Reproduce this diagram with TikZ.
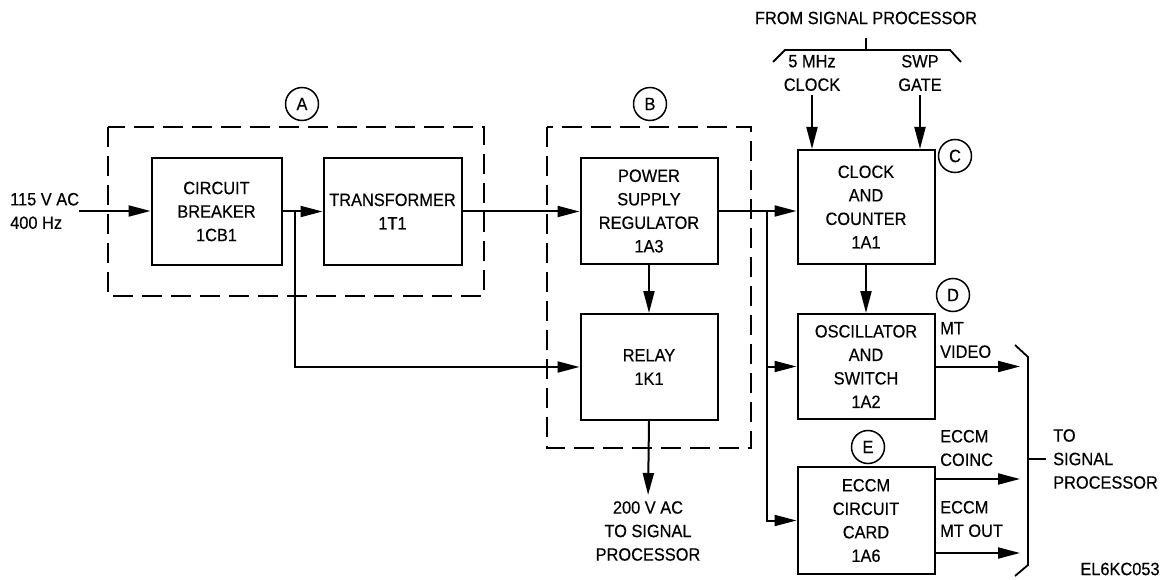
\documentclass[tikz,border=0pt]{standalone}
\usepackage{fontspec}
\setmainfont[FakeStretch=0.92,FakeBold=0.4]{Liberation Sans}
\usetikzlibrary{
  arrows.meta,
  positioning
}
\newcommand{\diagfont}{\fontsize{17.8}{23.5}\selectfont}
\tikzset{
  block/.style={draw,line width=2pt,minimum width=137pt,minimum height=106pt,align=center,font=\diagfont,inner sep=2pt},
  group/.style={draw,line width=1.8pt,dash pattern=on 20pt off 9pt},
  sig/.style={-{Triangle[length=22pt,width=11pt]},line width=2pt},
  wire/.style={line width=1.8pt},
  tag/.style={circle,draw,line width=1.5pt,minimum size=33pt,inner sep=0pt,font=\diagfont},
  note/.style={align=left,font=\diagfont,inner sep=0pt},
  notec/.style={align=center,font=\diagfont,inner sep=0pt}
}

\begin{document}
\begin{tikzpicture}[x=1pt,y=-1pt]
\useasboundingbox (0,0) rectangle (1167,580);

% blocks
\node[block,minimum width=130pt,minimum height=107pt] (cb) at (216.5,211.5) {CIRCUIT\\BREAKER\\1CB1};
\node[block,minimum width=138pt,minimum height=107pt,right=40pt of cb] (tr) {TRANSFORMER\\1T1};
\node[block] (psr) at (649,211) {POWER\\SUPPLY\\REGULATOR\\1A3};
\node[block,below=48pt of psr] (relay) {RELAY\\1K1};
\node[block,minimum height=114pt] (clk) at (866,207) {CLOCK\\AND\\COUNTER\\1A1};
\node[block,minimum height=105pt,below=48pt of clk] (osc) {OSCILLATOR\\AND\\SWITCH\\1A2};
\node[block,minimum height=107pt,below=46pt of osc] (eccm) {ECCM\\CIRCUIT\\CARD\\1A6};

% assemblies
\draw[group] (108,127) rectangle (484,296);
\draw[group] (547,127) rectangle (751,448);
\node[tag] (ta) at (302,104) {A};
\node[tag] (tb) at (650,104) {B};
\node[tag] (tc) at (955,156) {C};
\node[tag] (td) at (953,295) {D};
\node[tag] (te) at (868,447) {E};

% input side
\node[note,anchor=west] (ac) at (10,211) {115 V AC\\400 Hz};
\draw[sig] (ac.east) -- (ac.east -| cb.west);
\coordinate (j1) at (295,211.5);
\draw[sig] (cb.east) -- (tr.west);
\draw[sig] (j1) |- (relay.west);
\draw[sig] (tr.east) -- (tr.east -| psr.west);
\draw[sig] (psr.south) -- (relay.north);
\node[notec] (out) at (648,531) {200 V AC\\TO SIGNAL\\PROCESSOR};
\draw[sig,shorten >=6pt] (relay.south) -- (out.north);

% regulator outputs
\draw[sig] (psr.east) -- (psr.east -| clk.west);
\coordinate (j2) at (767,211);
\draw[sig] (j2) |- (osc.west);
\draw[sig] (j2) |- (eccm.west);
\draw[sig] (clk.south) -- (osc.north);

% from signal processor
\node[notec] (fsp) at (866,18) {FROM SIGNAL PROCESSOR};
\coordinate (bt) at (866,50);
\draw[wire] (773,62) -- (785,50) -- (950,50) -- (961,62);
\draw[wire] (bt) -- ++(0,-12);
\node[notec] (clkin) at (812,73) {5 MHz\\CLOCK};
\node[notec] (swp) at (920,73) {SWP\\GATE};
\draw[sig,shorten <=4pt] (clkin.south) -- (clkin.south |- clk.north);
\draw[sig,shorten <=4pt] (swp.south) -- (swp.south |- clk.north);

% to signal processor
\coordinate (brk) at (1020,459);
\draw[sig] (osc.east) -- (osc.east -| brk);
\draw[sig] (eccm.east |- 0,479) -- (brk |- 0,479);
\draw[sig] (eccm.east |- 0,553) -- (brk |- 0,553);
\node[note,anchor=west] (mtv) at (940,340) {MT\\VIDEO};
\node[note,anchor=west] (coinc) at (940,448) {ECCM\\COINC};
\node[note,anchor=west] (mtout) at (940,519) {ECCM\\MT OUT};
\draw[wire] (1015,345) -- (1028,357) -- (1028,565) -- (1015,576);
\draw[wire] (1028,459) -- (1046,459);
\node[note,anchor=west] (tsp) at (1053,459) {TO\\SIGNAL\\PROCESSOR};
\node[notec] (code) at (1120,569) {EL6KC053};
\end{tikzpicture}
\end{document}
